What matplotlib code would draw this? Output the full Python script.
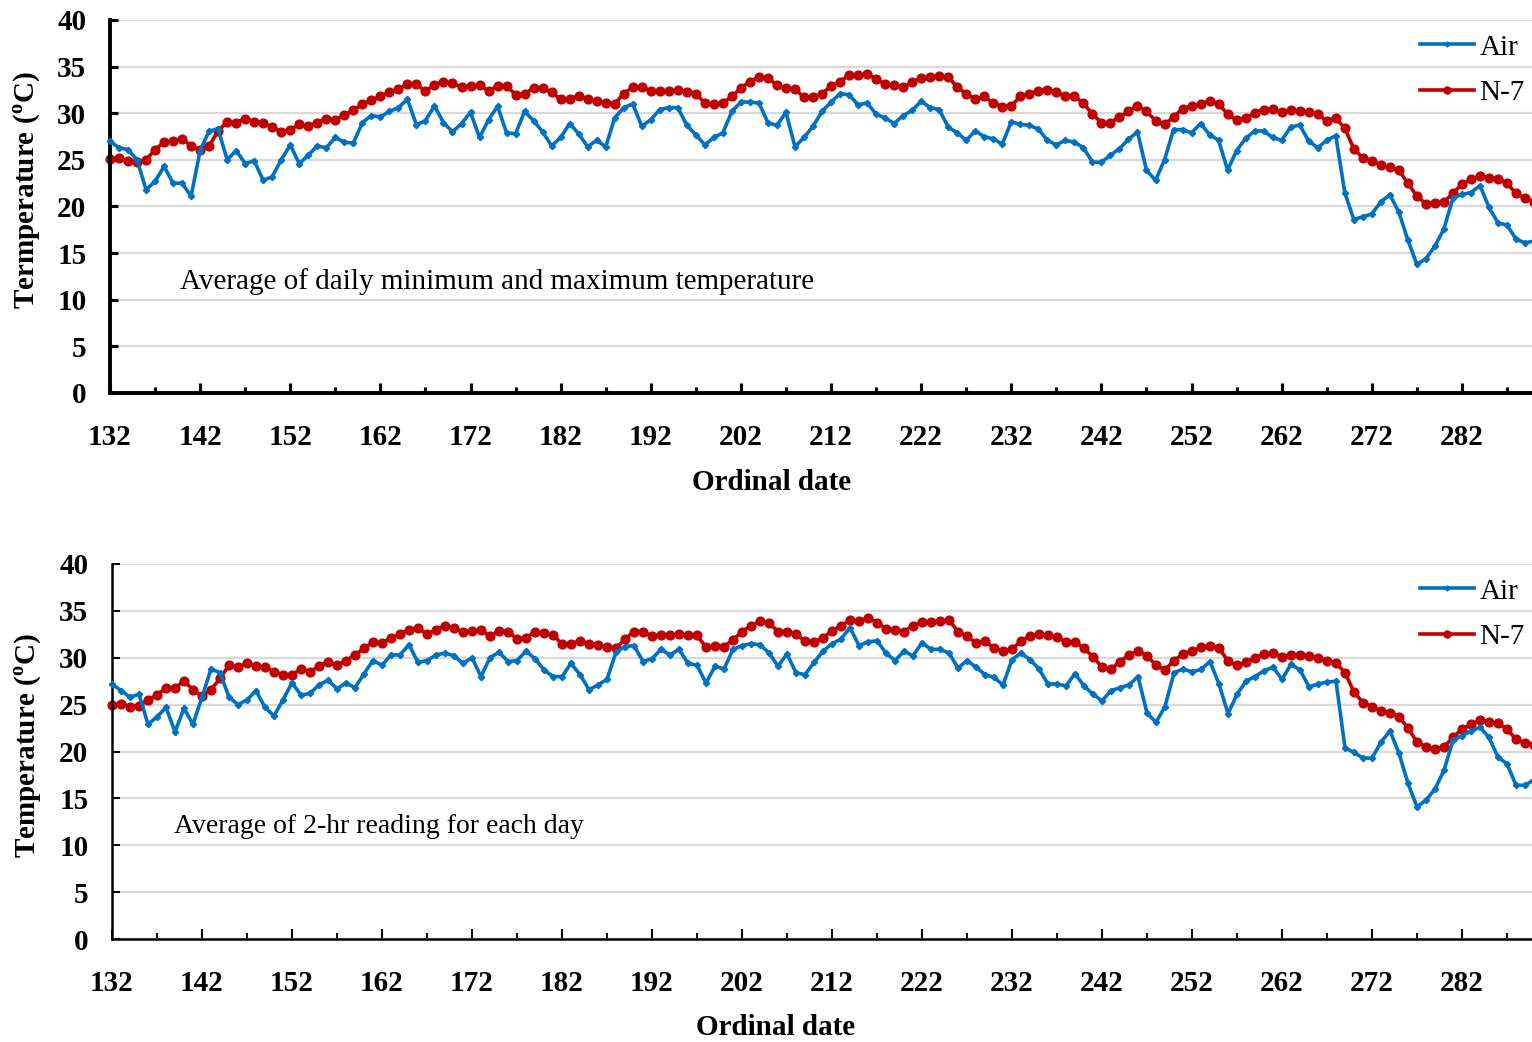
import matplotlib
matplotlib.use("Agg")
import matplotlib.pyplot as plt
import numpy as np

# Jours ordinaux 132 à 290
days = np.arange(132, 291)

# Moyenne des températures min et max journalières
air_minmax = [27.0, 26.3, 26.1, 25.0, 21.8, 22.7, 24.3, 22.5, 22.5, 21.1,
              26.0, 28.1, 28.3, 25.0, 26.0, 24.6, 24.9, 22.8, 23.2, 25.0,
              26.6, 24.6, 25.5, 26.5, 26.3, 27.4, 26.9, 26.8, 29.0, 29.75,
              29.6, 30.2, 30.6, 31.5, 28.75, 29.2, 30.8, 29.0, 28.0, 28.9,
              30.1, 27.4, 29.3, 30.75, 27.9, 27.8, 30.2, 29.2, 28.0, 26.5,
              27.4, 28.9, 27.8, 26.4, 27.1, 26.4, 29.5, 30.6, 31.0, 28.6,
              29.3, 30.4, 30.6, 30.6, 28.7, 27.7, 26.6, 27.4, 27.9, 30.2,
              31.2, 31.2, 31.1, 29.0, 28.7, 30.1, 26.4, 27.4, 28.6, 30.2,
              31.2, 32.1, 32.0, 30.9, 31.1, 29.9, 29.5, 28.9, 29.75, 30.3,
              31.3, 30.6, 30.4, 28.5, 27.9, 27.1, 28.1, 27.5, 27.25, 26.7,
              29.1, 28.8, 28.7, 28.3, 27.1, 26.6, 27.1, 26.9, 26.3, 24.75,
              24.75, 25.5, 26.2, 27.2, 28.0, 23.9, 22.8, 25.0, 28.25, 28.25,
              27.9, 28.9, 27.7, 27.1, 23.9, 26.0, 27.3, 28.1, 28.1, 27.4,
              27.1, 28.5, 28.75, 27.0, 26.3, 27.1, 27.6, 21.5, 18.6, 18.9,
              19.2, 20.5, 21.25, 19.4, 16.4, 13.8, 14.4, 15.75, 17.6, 20.9,
              21.3, 21.5, 22.25, 19.9, 18.25, 18.0, 16.5, 16.1, 16.3]
n7_minmax = [25.1, 25.2, 24.9, 24.8, 25.0, 26.1, 26.9, 27.0, 27.25, 26.5,
             26.1, 26.5, 28.1, 29.1, 29.0, 29.4, 29.1, 29.0, 28.5, 28.0,
             28.25, 28.8, 28.6, 29.0, 29.4, 29.3, 29.8, 30.3, 31.0, 31.4,
             31.8, 32.25, 32.6, 33.1, 33.1, 32.4, 33.0, 33.4, 33.2, 32.8,
             32.9, 33.0, 32.4, 32.9, 32.9, 32.0, 32.1, 32.7, 32.7, 32.25,
             31.5, 31.5, 31.9, 31.5, 31.35, 31.1, 31.0, 32.1, 32.8, 32.8,
             32.4, 32.4, 32.4, 32.5, 32.3, 32.1, 31.1, 31.0, 31.1, 31.8,
             32.7, 33.4, 33.9, 33.8, 33.0, 32.7, 32.6, 31.7, 31.7, 32.1,
             32.9, 33.4, 34.1, 34.1, 34.2, 33.7, 33.1, 33.0, 32.8, 33.3,
             33.8, 33.9, 34.0, 33.9, 32.8, 32.1, 31.5, 31.8, 31.1, 30.7,
             30.8, 31.8, 32.1, 32.4, 32.5, 32.25, 31.8, 31.8, 31.1, 29.9,
             29.0, 29.0, 29.6, 30.2, 30.8, 30.2, 29.2, 28.8, 29.6, 30.5,
             30.8, 31.0, 31.35, 31.0, 29.9, 29.25, 29.5, 30.0, 30.4, 30.5,
             30.1, 30.3, 30.2, 30.1, 29.9, 29.2, 29.5, 28.4, 26.2, 25.2,
             24.9, 24.4, 24.2, 23.9, 22.5, 21.1, 20.3, 20.4, 20.5, 21.4,
             22.4, 22.9, 23.3, 23.1, 23.0, 22.5, 21.4, 20.9, 20.5]

# Moyenne des relevés toutes les 2 heures
air_2hr = [27.2, 26.5, 25.8, 26.1, 22.9, 23.7, 24.7, 22.1, 24.6, 22.9,
           25.8, 28.8, 28.4, 25.8, 25.0, 25.5, 26.5, 24.7, 23.8, 25.5,
           27.35, 26.0, 26.2, 27.1, 27.6, 26.7, 27.3, 26.8, 28.3, 29.7,
           29.2, 30.3, 30.3, 31.4, 29.5, 29.7, 30.3, 30.5, 30.2, 29.4,
           30.0, 28.0, 30.0, 30.6, 29.6, 29.7, 30.7, 29.9, 28.7, 28.0,
           28.0, 29.4, 28.2, 26.6, 27.1, 27.7, 30.6, 31.2, 31.3, 29.6,
           29.9, 30.9, 30.3, 30.9, 29.4, 29.2, 27.3, 29.1, 28.8, 30.9,
           31.3, 31.5, 31.4, 30.5, 29.1, 30.4, 28.4, 28.2, 29.5, 30.7,
           31.5, 32.0, 33.2, 31.3, 31.7, 31.8, 30.5, 29.7, 30.7, 30.2,
           31.6, 30.9, 30.9, 30.5, 28.9, 29.7, 29.0, 28.2, 27.9, 27.1,
           29.8, 30.5, 29.8, 28.8, 27.2, 27.2, 27.0, 28.3, 27.0, 26.1,
           25.4, 26.5, 26.8, 27.1, 28.0, 24.1, 23.1, 24.8, 28.4, 28.8,
           28.5, 28.75, 29.6, 27.2, 24.05, 26.1, 27.5, 28.0, 28.6, 29.0,
           27.7, 29.3, 28.7, 26.9, 27.2, 27.4, 27.5, 20.4, 19.9, 19.3,
           19.3, 21.0, 22.2, 19.8, 16.6, 14.1, 14.8, 16.0, 18.0, 21.2,
           21.7, 22.15, 22.6, 21.5, 19.4, 18.7, 16.4, 16.4, 17.0]
n7_2hr = [25.0, 25.1, 24.8, 24.85, 25.5, 26.0, 26.8, 26.8, 27.5, 26.6,
          25.9, 26.6, 27.8, 29.2, 29.0, 29.4, 29.1, 29.0, 28.5, 28.2,
          28.2, 28.8, 28.5, 29.1, 29.6, 29.2, 29.7, 30.3, 31.0, 31.7,
          31.6, 32.1, 32.5, 33.0, 33.2, 32.5, 33.0, 33.4, 33.2, 32.7,
          32.9, 32.95, 32.3, 32.9, 32.8, 32.0, 32.1, 32.8, 32.6, 32.4,
          31.5, 31.5, 31.8, 31.5, 31.4, 31.1, 31.0, 32.0, 32.8, 32.8,
          32.3, 32.4, 32.4, 32.5, 32.4, 32.4, 31.1, 31.3, 31.2, 31.9,
          32.8, 33.4, 33.9, 33.7, 32.8, 32.8, 32.5, 31.8, 31.7, 32.1,
          32.9, 33.4, 34.0, 33.95, 34.25, 33.75, 33.1, 33.0, 32.8, 33.4,
          33.8, 33.8, 33.9, 34.0, 32.8, 32.3, 31.6, 31.8, 31.0, 30.7,
          30.9, 31.8, 32.3, 32.5, 32.4, 32.2, 31.7, 31.7, 31.0, 30.1,
          29.0, 28.8, 29.6, 30.3, 30.7, 30.2, 29.2, 28.7, 29.7, 30.4,
          30.7, 31.1, 31.3, 31.05, 29.65, 29.2, 29.5, 30.0, 30.4, 30.5,
          30.1, 30.3, 30.3, 30.2, 30.0, 29.7, 29.45, 28.4, 26.35, 25.2,
          24.8, 24.3, 24.15, 23.7, 22.5, 21.0, 20.5, 20.3, 20.5, 21.5,
          22.4, 22.9, 23.4, 23.1, 23.0, 22.4, 21.3, 20.9, 20.7]

major_ticks = np.arange(132, 291, 10)
minor_ticks = np.arange(137, 291, 10)

plt.rcParams['font.family'] = 'Liberation Serif'
plt.rcParams['mathtext.fontset'] = 'custom'
plt.rcParams['mathtext.rm'] = 'Liberation Serif'
plt.rcParams['mathtext.bf'] = 'Liberation Serif:bold'

fs = 21

fig = plt.figure(figsize=(15.32, 10.42), dpi=100)

# Position des deux graphiques (en fraction de la figure)
panels = [
    dict(rect=[110 / 1532, 1 - 393 / 1042, 1422 / 1532, 373 / 1042],
         xmax=132 + 1422 / 9.013, air=air_minmax, n7=n7_minmax,
         ylabel=r'Termperature ($^{\mathbf{o}}$C)', spine=2.8,
         note='Average of daily minimum and maximum temperature', note_fs=21,
         note_xy=(0.049, 0.300), xlab=(0.4655, -0.205), ylab=(-0.047, 0.544)),
    dict(rect=[112 / 1532, 1 - 939 / 1042, 1420 / 1532, 375 / 1042],
         xmax=132 + 1420 / 9.0, air=air_2hr, n7=n7_2hr,
         ylabel=r'Temperature ($^{\mathbf{o}}$C)', spine=1.8,
         note='Average of 2-hr reading for each day', note_fs=20,
         note_xy=(0.044, 0.301), xlab=(0.4676, -0.200), ylab=(-0.048, 0.517)),
]

for p in panels:
    ax = fig.add_axes(p['rect'])
    ax.plot(days, p['air'], color='#0070C0', linewidth=2.6, marker='D',
            markersize=3.2, label='Air', clip_on=False, zorder=3)
    ax.plot(days, p['n7'], color='#C00000', linewidth=2.6, marker='o',
            markersize=6.3, label='N-7', clip_on=False, zorder=2)

    ax.set_xlim(132, p['xmax'])
    ax.set_ylim(0, 40)
    ax.set_xticks(major_ticks)
    ax.set_xticks(minor_ticks, minor=True)
    ax.set_yticks(np.arange(0, 41, 5))
    ax.grid(axis='y', color='#d9d9d9', linewidth=1.6)
    ax.set_axisbelow(True)

    for side in ['top', 'right']:
        ax.spines[side].set_visible(False)
    for side in ['left', 'bottom']:
        ax.spines[side].set_linewidth(p['spine'])

    ax.tick_params(axis='x', which='major', direction='in', length=7,
                   width=p['spine'] * 0.8, pad=22, labelsize=fs)
    ax.tick_params(axis='x', which='minor', direction='in', length=4,
                   width=p['spine'] * 0.8)
    ax.tick_params(axis='y', direction='in', length=6, width=p['spine'] * 0.8,
                   pad=17, labelsize=fs)
    for lab in ax.get_xticklabels() + ax.get_yticklabels():
        lab.set_fontweight('bold')

    ax.set_xlabel('Ordinal date', fontsize=fs, fontweight='bold')
    ax.xaxis.set_label_coords(*p['xlab'])
    ax.set_ylabel(p['ylabel'], fontsize=fs, fontweight='bold')
    ax.yaxis.set_label_coords(*p['ylab'])

    ax.text(p['note_xy'][0], p['note_xy'][1], p['note'], transform=ax.transAxes,
            fontsize=p['note_fs'], va='center', ha='left')

    ax.legend(loc='upper right', bbox_to_anchor=(0.995, 0.962), frameon=False,
              fontsize=fs, numpoints=1, handlelength=1.85, handletextpad=0.2,
              labelspacing=0.65, borderpad=0, borderaxespad=0, markerscale=0.8)

fig.savefig('out.png', dpi=100)
